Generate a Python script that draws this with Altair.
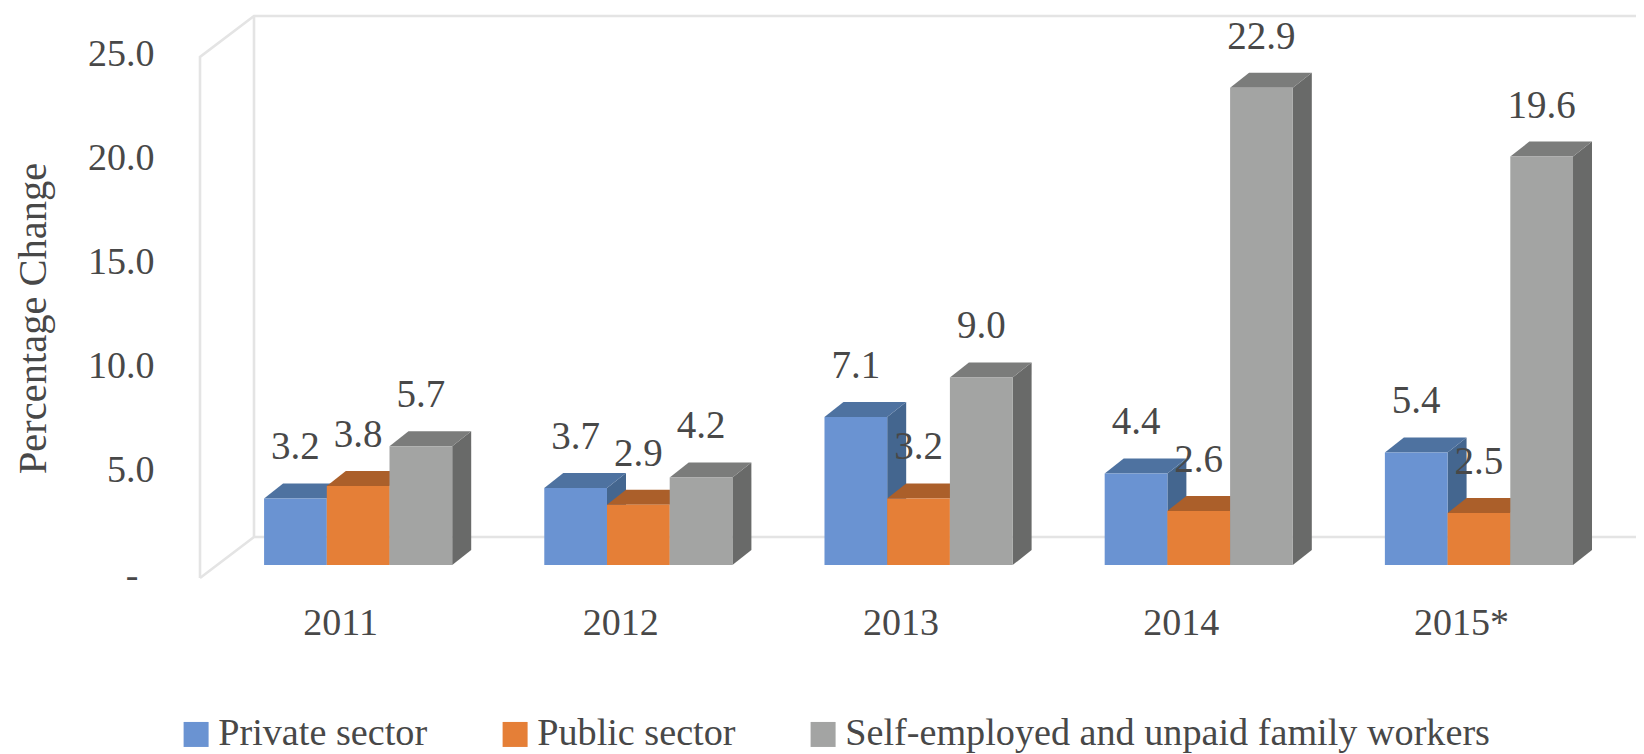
import json
import altair as alt
import pandas as pd

years = ["2011", "2012", "2013", "2014", "2015*"]
series = ["Private sector", "Public sector", "Self-employed and unpaid family workers"]
private = [3.2, 3.7, 7.1, 4.4, 5.4]
public = [3.8, 2.9, 3.2, 2.6, 2.5]
selfemp = [5.7, 4.2, 9.0, 22.9, 19.6]
values = [private, public, selfemp]
front = ["#6a93d2", "#e57f37", "#a3a4a3"]
top = ["#4e72a0", "#ab5f2a", "#7b7c7b"]
side = ["#44668f", "#9a5525", "#696a69"]
WALL = "#e4e4e4"
TEXT = "#484848"
FONT = "Liberation Serif"

# projection of the pseudo-3D box, in data units
BAR_START, BAR_W = -0.2713, 0.2238
BASE = 0.62
DX, DY = 0.0678, 0.72
WALL_DX, WALL_DY = 0.1927, 1.97
XMIN, XMAX, XEND = -0.5, 4.5, 4.7
LABEL_LIFT = 2.45

xs = alt.Scale(domain=[XMIN, XMAX], nice=False, zero=False)
ys = alt.Scale(domain=[0, 25], nice=False, zero=False)
cs = alt.Scale(domain=series, range=front)
x_axis = alt.Axis(
    values=list(range(len(years))),
    labelExpr=f"{json.dumps(years)}[datum.value]",
    title=None, domain=False, ticks=False, grid=False,
    labelFont=FONT, labelFontSize=38, labelColor=TEXT, labelPadding=26,
)
y_axis = alt.Axis(
    values=[0, 5, 10, 15, 20, 25],
    labelExpr="datum.value === 0 ? '-' : format(datum.value, '.1f')",
    title="Percentage Change", titleFont=FONT, titleFontSize=40.5,
    titleFontWeight="normal", titleColor=TEXT, titleX=-146, titleY=261,
    domain=False, ticks=False, grid=False,
    labelFont=FONT, labelFontSize=38, labelColor=TEXT,
    labelPadding={"condition": {"test": "datum.value === 0", "value": 62}, "value": 46},
    labelOffset={"condition": {"test": "datum.value === 0", "value": -2}, "value": -3},
)
X = alt.X("x:Q", scale=xs, axis=x_axis)
Y = alt.Y("y:Q", scale=ys, axis=y_axis)

walls = pd.DataFrame(
    [
        ("a", XMIN, 0), ("a", XMIN, 25),
        ("a", XMIN + WALL_DX, 25 + WALL_DY), ("a", XEND, 25 + WALL_DY),
        ("b", XMIN + WALL_DX, 25 + WALL_DY), ("b", XMIN + WALL_DX, WALL_DY),
        ("c", XMIN, 0), ("c", XMIN + WALL_DX, WALL_DY), ("c", XEND, WALL_DY),
    ],
    columns=["id", "x", "y"],
)
wall_layer = (
    alt.Chart(walls)
    .transform_window(row="row_number()")
    .mark_line(color=WALL, strokeWidth=2.6, clip=False)
    .encode(x=X, y=Y, detail="id:N", order=alt.Order("row:Q"))
)

layers = [wall_layer]
text_rows = []
for j, name in enumerate(series):
    sides, tops, fronts = [], [], []
    for i, v in enumerate(values[j]):
        left = i + BAR_START + BAR_W * j
        right = left + BAR_W
        sides += [
            dict(b=i, x=right, y=BASE, y2=BASE + v),
            dict(b=i, x=right + DX, y=BASE + DY, y2=BASE + v + DY),
        ]
        tops += [
            dict(b=i, y=BASE + v, x=left, x2=right),
            dict(b=i, y=BASE + v + DY, x=left + DX, x2=right + DX),
        ]
        fronts.append(dict(series=name, x=left, x2=right, y=BASE, y2=BASE + v))
        text_rows.append(dict(x=(left + right) / 2, y=BASE + v + LABEL_LIFT, label=f"{v:.1f}"))
    layers.append(
        alt.Chart(pd.DataFrame(sides)).mark_area(color=side[j], clip=False).encode(
            x=X, y=Y, y2="y2:Q", detail="b:N")
    )
    layers.append(
        alt.Chart(pd.DataFrame(tops)).mark_area(color=top[j], orient="horizontal", clip=False).encode(
            x=X, x2="x2:Q", y=Y, detail="b:N")
    )
    layers.append(
        alt.Chart(pd.DataFrame(fronts)).mark_rect(clip=False).encode(
            x=X, x2="x2:Q", y=Y, y2="y2:Q",
            color=alt.Color("series:N", scale=cs, legend=alt.Legend(
                title=None, orient="none", legendX=-23, legendY=658,
                direction="horizontal", columns=3, columnPadding=68,
                symbolType="square", symbolSize=625, symbolStrokeWidth=0,
                symbolOpacity=1, labelOffset=3,
                labelFont=FONT, labelFontSize=38.2, labelColor=TEXT, labelLimit=0,
            )),
        )
    )

text_layer = alt.Chart(pd.DataFrame(text_rows)).mark_text(
    font=FONT, fontSize=39, color=TEXT, baseline="middle", align="center"
).encode(x=X, y=Y, text="label:N")
layers.append(text_layer)

chart = (
    alt.layer(*layers)
    .resolve_scale(color="shared")
    .properties(
        width=1401, height=521,
        autosize=alt.AutoSizeParams(type="none"),
        padding={"left": 192, "top": 49, "right": 35, "bottom": 176},
        background="white",
    )
    .configure_view(stroke=None)
)
chart.save("out.html", embed_options={"renderer": "svg", "actions": False})
